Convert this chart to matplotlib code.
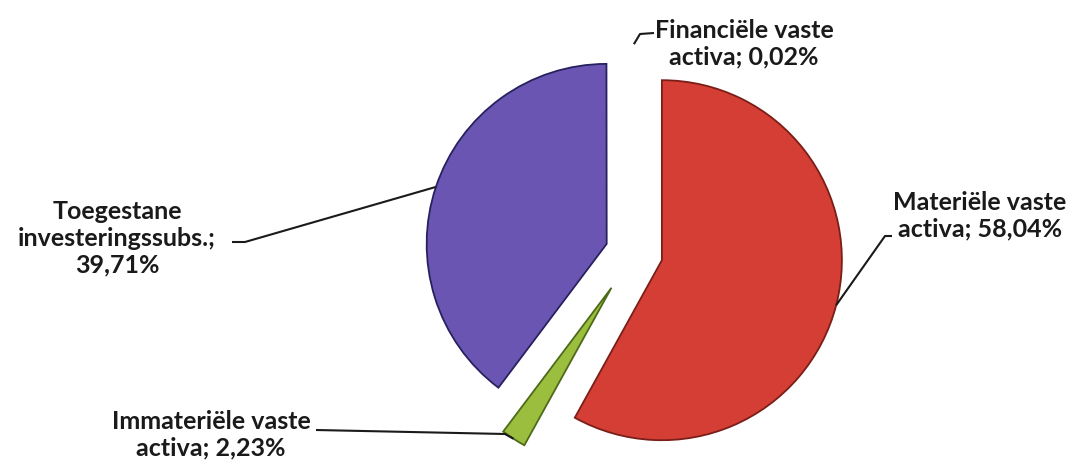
import numpy as np
import matplotlib.pyplot as plt

plt.rcParams["font.family"] = ["Lato", "DejaVu Sans"]

# data
labels = [
    "Materiële vaste\nactiva; 58,04%",
    "Immateriële vaste\nactiva; 2,23%",
    "Toegestane\ninvesteringssubs.;\n39,71%",
    "Financiële vaste\nactiva; 0,02%",
]
shares = [58.04, 2.23, 39.71, 0.02]
colors = ["#D43E34", "#9CBE3E", "#6A56B2", "#FFFFFF"]
edge_colors = ["#7A1E18", "#4D6A1A", "#28215F", "none"]
explode = [0.16, 0.23, 0.16, 0.16]

# layout in figure pixels (from top-left): text centre, elbow, line end
W, H = 1071, 465
CX, CY, R = 634, 253, 180
text_pos = [(980, 216), (211, 435), (117, 238), (744, 44)]
elbows = [(885, 236), (505, 434), (245, 242), (640, 34)]
ends = [(892, 236), (316, 430), (232, 242), (654, 33)]


def px(x, y):
    return (x - CX) / R, (CY - y) / R


fig = plt.figure(figsize=(W / 100, H / 100), dpi=100)
ax = fig.add_axes([0, 0, 1, 1])

wedges, _ = ax.pie(
    shares, startangle=90, counterclock=False, explode=explode,
    colors=colors, radius=1,
    wedgeprops=dict(linewidth=1.3),
)
for w, ec in zip(wedges, edge_colors):
    w.set_edgecolor(ec)

ax.set_aspect("auto")
ax.set_xlim(-CX / R, (W - CX) / R)
ax.set_ylim(-(H - CY) / R, CY / R)
ax.axis("off")

for w, lab, tp, el, en in zip(wedges, labels, text_pos, elbows, ends):
    mid = np.deg2rad((w.theta1 + w.theta2) / 2)
    ax0 = w.center[0] + w.r * np.cos(mid)
    ay0 = w.center[1] + w.r * np.sin(mid)
    ex, ey = px(*el)
    nx, ny = px(*en)
    ax.plot([ax0, ex, nx], [ay0, ey, ny], color="#1a1a1a", lw=1.5,
            solid_capstyle="butt")
    tx, ty = px(*tp)
    ax.text(tx, ty, lab, ha="center", va="center", fontsize=18,
            fontweight="bold", color="#1a1a1a", linespacing=1.2)

fig.savefig("out.png", dpi=100)
